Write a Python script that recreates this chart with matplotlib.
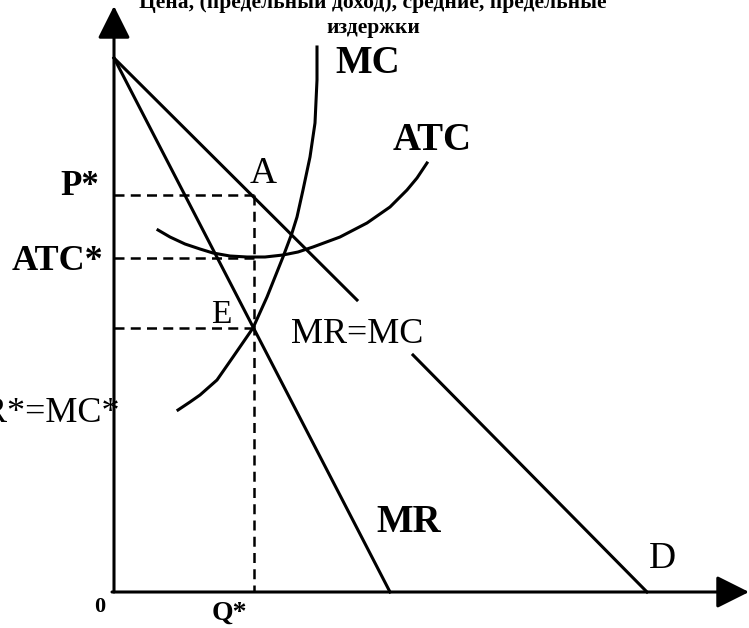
import matplotlib
matplotlib.use("Agg")
import matplotlib.pyplot as plt

# Scheme coordinates (image-like units, y grows downwards)
origin = (114, 592)
y_top = 6
x_right = 749

# demand curve D (drawn in two pieces, gap for the MR=MC label)
demand_x1 = [114, 357]
demand_y1 = [58, 300]
demand_x2 = [413, 647]
demand_y2 = [355, 592]

# marginal revenue MR
mr_x = [114, 390]
mr_y = [58, 592]

# marginal cost MC
mc_x = [178, 190, 200, 217, 233, 253, 267, 283, 292, 297, 303, 310, 315, 317, 317]
mc_y = [410, 402, 395, 380, 357, 328, 297, 257, 233, 217, 190, 157, 123, 80, 47]

# average total cost ATC
atc_x = [158, 170, 185, 200, 213, 230, 247, 265, 283, 298, 313, 340, 367, 390, 407, 417, 427]
atc_y = [230, 237, 244, 249, 253, 256, 257, 257, 255, 252, 247, 237, 223, 207, 190, 178, 163]

# equilibrium levels
q_star = 254
p_star = 195
atc_star = 258
mc_star = 328

plt.rcParams['font.family'] = ['Liberation Serif', 'DejaVu Serif']

fig = plt.figure(figsize=(7.49, 6.28), dpi=100)
ax = fig.add_axes([0, 0, 1, 1])
ax.set_xlim(0, 749)
ax.set_ylim(628, 0)
ax.axis('off')

lw = 2.2
# axes with arrows
ax.annotate('', xy=(origin[0], y_top), xytext=origin,
            arrowprops=dict(arrowstyle='-|>,head_length=1.0,head_width=0.5',
                            mutation_scale=20, lw=lw, color='black',
                            shrinkA=0, shrinkB=0))
ax.annotate('', xy=(x_right, origin[1]), xytext=(origin[0] - 2, origin[1]),
            arrowprops=dict(arrowstyle='-|>,head_length=1.0,head_width=0.5',
                            mutation_scale=20, lw=lw, color='black',
                            shrinkA=0, shrinkB=0))

# curves
ax.plot(demand_x1, demand_y1, color='black', lw=lw)
ax.plot(demand_x2, demand_y2, color='black', lw=lw)
ax.plot(mr_x, mr_y, color='black', lw=lw)
ax.plot(mc_x, mc_y, color='black', lw=lw, solid_joinstyle='round')
ax.plot(atc_x, atc_y, color='black', lw=lw, solid_joinstyle='round')

# dashed guides
dash = dict(color='black', lw=1.8, linestyle=(0, (4, 2.5)))
ax.plot([origin[0], q_star], [p_star, p_star], **dash)
ax.plot([origin[0], q_star], [atc_star, atc_star], **dash)
ax.plot([origin[0], q_star], [mc_star, mc_star], **dash)
ax.plot([q_star, q_star], [p_star, origin[1]], **dash)

# title (top line partially cut off, as in the reference)
ax.text(373, 8, 'Цена, (предельный доход), средние, предельные',
        ha='center', va='baseline', fontsize=15.5, fontweight='bold')
ax.text(373, 33, 'издержки', ha='center', va='baseline',
        fontsize=15.5, fontweight='bold')

# labels
ax.text(335, 73, 'MC', ha='left', va='baseline', fontsize=28, fontweight='bold')
ax.text(393, 150, 'ATC', ha='left', va='baseline', fontsize=28, fontweight='bold')
ax.text(250, 183, 'A', ha='left', va='baseline', fontsize=27)
ax.text(211, 323, 'E', ha='left', va='baseline', fontsize=24)
ax.text(291, 343, 'MR=MC', ha='left', va='baseline', fontsize=26)
ax.text(376, 532, 'MR', ha='left', va='baseline', fontsize=28, fontweight='bold')
ax.text(649, 568, 'D', ha='left', va='baseline', fontsize=27)
ax.text(99, 195, 'P*', ha='right', va='baseline', fontsize=25, fontweight='bold')
ax.text(103, 270, 'ATC*', ha='right', va='baseline', fontsize=26, fontweight='bold')
ax.text(120, 422, 'MR*=MC*', ha='right', va='baseline', fontsize=26)
ax.text(100, 612, '0', ha='center', va='baseline', fontsize=16, fontweight='bold')
ax.text(229, 620, 'Q*', ha='center', va='baseline', fontsize=20, fontweight='bold')

fig.savefig('out.png', dpi=100)
